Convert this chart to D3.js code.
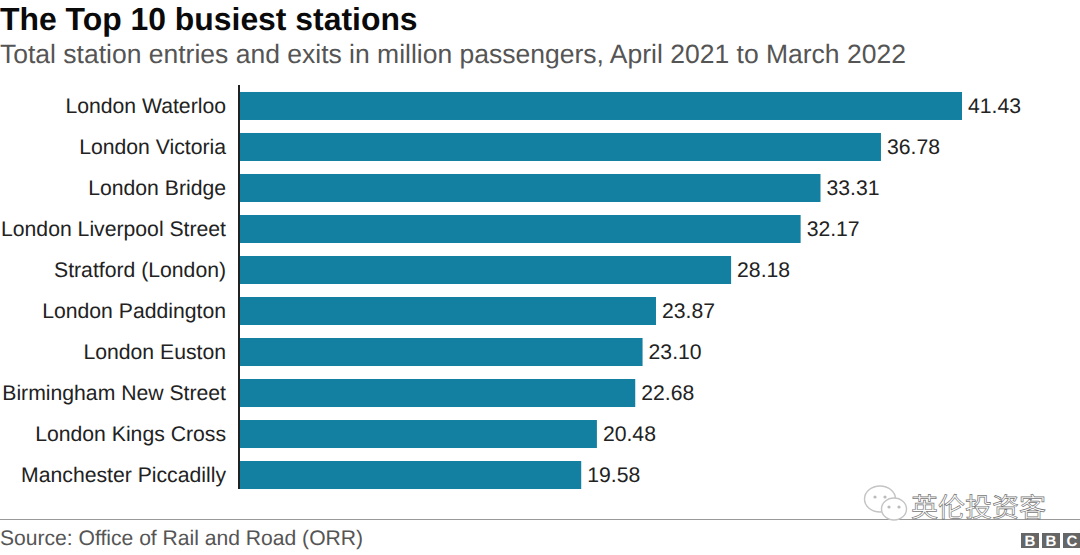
<!DOCTYPE html>
<html><head><meta charset="utf-8">
<script src="https://cdn.jsdelivr.net/npm/d3@7/dist/d3.min.js"></script>
<style>html,body{margin:0;padding:0;background:#fff}svg{display:block}text{font-family:"Liberation Sans",Arial,sans-serif;text-rendering:geometricPrecision}</style>
</head><body><div id="c"></div>
<script>
const stations=["London Waterloo","London Victoria","London Bridge","London Liverpool Street","Stratford (London)","London Paddington","London Euston","Birmingham New Street","London Kings Cross","Manchester Piccadilly"];
const values=[41.43,36.78,33.31,32.17,28.18,23.87,23.10,22.68,20.48,19.58];
const valueLabels=["41.43","36.78","33.31","32.17","28.18","23.87","23.10","22.68","20.48","19.58"];
const bbcLetters=["B","B","C"];

const W=1080,H=555;
const svg=d3.select("#c").append("svg").attr("width",W).attr("height",H);
svg.append("text").attr("x",0).attr("y",30).attr("font-size",31.9).attr("font-weight",700).attr("fill","#0a0a0a").text("The Top 10 busiest stations");
svg.append("text").attr("x",0).attr("y",63).attr("font-size",26.5).attr("fill","#555").text("Total station entries and exits in million passengers, April 2021 to March 2022");

const x=d3.scaleLinear().domain([0,41.43]).range([240,962]);
const y=d3.scaleBand().domain(stations).range([85.5,495.5]).paddingInner(0.317).paddingOuter(0.158);

svg.selectAll("rect.bar").data(stations).join("rect").attr("class","bar")
 .attr("x",x(0)).attr("y",d=>y(d)).attr("height",y.bandwidth())
 .attr("width",(d,i)=>x(values[i])-x(0)).attr("fill","#1380A1");

const axis=d3.axisLeft(y).tickSize(0).tickPadding(13);
const g=svg.append("g").attr("transform",`translate(${x(0)-1},0)`).call(axis);
g.select(".domain").attr("stroke","#222").attr("stroke-width",2).attr("d","M0,85V489");
g.selectAll("text").attr("font-size",21.2).attr("fill","#222").style("font-family",'"Liberation Sans",Arial,sans-serif');

svg.selectAll("text.val").data(stations).join("text").attr("class","val")
 .attr("x",(d,i)=>x(values[i])+6).attr("y",d=>y(d)+y.bandwidth()/2+7)
 .attr("font-size",21.2).attr("fill","#222").text((d,i)=>valueLabels[i]);

svg.append("line").attr("x1",0).attr("x2",W).attr("y1",519.5).attr("y2",519.5).attr("stroke","#999").attr("stroke-width",1.2);
svg.append("text").attr("x",0).attr("y",545).attr("font-size",21.1).attr("fill","#555").text("Source: Office of Rail and Road (ORR)");

// BBC blocks
bbcLetters.forEach((l,i)=>{
  const bx=1021+i*21;
  svg.append("rect").attr("x",bx).attr("y",533).attr("width",18).attr("height",15).attr("fill","#666");
  svg.append("text").attr("x",bx+9).attr("y",546).attr("text-anchor","middle").attr("font-size",15).attr("font-weight",700).attr("fill","#fff").text(l);
});

// watermark
const wm=svg.append("g");
[[880,499,15.5,13],[894,509,12.5,11]].forEach(([cx,cy,rx,ry])=>{
  wm.append("ellipse").attr("cx",cx).attr("cy",cy).attr("rx",rx).attr("ry",ry).attr("fill","#fff").attr("stroke","#c4c4c4").attr("stroke-width",1.4);
  wm.append("circle").attr("cx",cx-5).attr("cy",cy-2).attr("r",1.6).attr("fill","#bbb");
  wm.append("circle").attr("cx",cx+5).attr("cy",cy-2).attr("r",1.6).attr("fill","#bbb");
});
wm.append("text").attr("x",911).attr("y",517).attr("font-size",27).attr("fill","#fff").attr("stroke","#777").attr("stroke-width",0.7)
  .style("font-family",'"Noto Sans CJK SC"').text("英伦投资客");
</script></body></html>
